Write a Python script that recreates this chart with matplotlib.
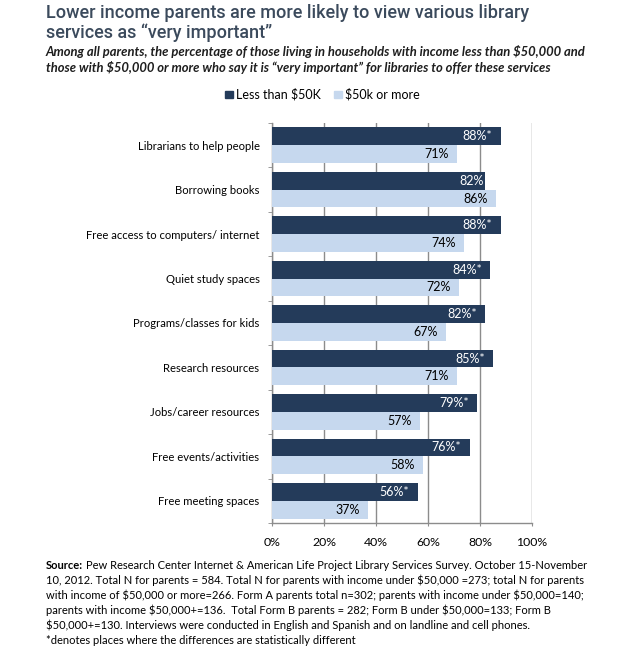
import matplotlib
matplotlib.use("Agg")
import matplotlib.pyplot as plt
import numpy as np
from matplotlib.patches import Rectangle

categories = ["Librarians to help people", "Borrowing books",
              "Free access to computers/ internet", "Quiet study spaces",
              "Programs/classes for kids", "Research resources",
              "Jobs/career resources", "Free events/activities",
              "Free meeting spaces"]
less_50k = [88, 82, 88, 84, 82, 85, 79, 76, 56]
more_50k = [71, 86, 74, 72, 67, 71, 57, 58, 37]
significant = [True, False, True, True, True, True, True, True, True]
xticks = [0, 20, 40, 60, 80, 100]
xticklabels = ["0%", "20%", "40%", "60%", "80%", "100%"]

DARK = "#243b5a"
LIGHT = "#c6d8ee"
GRID = "#8c8c8c"
BODY = "Lato"

W, H = 624, 655
fig = plt.figure(figsize=(W / 100, H / 100), dpi=100)
fig.patch.set_facecolor("white")

def ftext(x, y, s, **kw):
    return fig.text(x / W, 1 - y / H, s, parse_math=False, va="baseline", ha="left", **kw)

ax = fig.add_axes([272 / W, 1 - 523 / H, 260 / W, 400 / H])
n = len(categories)
y = np.arange(n)
bh = 0.4
ax.barh(y - bh / 2, less_50k, height=bh, color=DARK, zorder=3)
ax.barh(y + bh / 2, more_50k, height=bh, color=LIGHT, zorder=3)

for i in range(n):
    lab = f"{less_50k[i]}%" + ("*" if significant[i] else "")
    off = -6 if significant[i] else -1
    ax.annotate(lab, (less_50k[i], y[i] - bh / 2), xytext=(off, 0),
                textcoords="offset points", ha="right", va="center",
                color="white", fontsize=9, family=BODY, zorder=4)
    ax.annotate(f"{more_50k[i]}%", (more_50k[i], y[i] + bh / 2), xytext=(-6, 0),
                textcoords="offset points", ha="right", va="center",
                color="black", fontsize=9, family=BODY, zorder=4)

ax.set_xlim(0, 100)
ax.set_ylim(n - 0.5, -0.5)
ax.set_xticks(xticks)
ax.set_xticklabels(xticklabels, fontsize=8.8, family=BODY)
ax.set_yticks(y)
ax.set_yticklabels(categories, fontsize=8.1, family=BODY)
ax.tick_params(axis="y", length=0, pad=9)
ax.set_yticks(np.arange(n + 1) - 0.5, minor=True)
ax.tick_params(axis="y", which="minor", length=3, color=GRID, direction="out")
ax.tick_params(axis="x", length=2.5, color=GRID, direction="out", pad=7.5)
ax.xaxis.grid(True, color=GRID, linewidth=1, zorder=0)
ax.set_axisbelow(True)
for s in ["top", "right"]:
    ax.spines[s].set_visible(False)
for s in ["left", "bottom"]:
    ax.spines[s].set_color(GRID)
    ax.spines[s].set_linewidth(1)

# Title and subtitle
TCOL = "#3b4a5c"
ftext(46, 18.5, "Lower income parents are more likely to view various library",
      fontsize=13, weight=500, color=TCOL, family="Roboto")
ftext(46, 37.5, "services as \u201cvery important\u201d",
      fontsize=13, weight=500, color=TCOL, family="Roboto")
ftext(46, 56.5, "Among all parents, the percentage of those living in households with income less than $50,000 and",
      fontsize=9.35, style="italic", weight="bold", color="#1e1e1e", family=BODY)
ftext(46, 72.5, "those with $50,000 or more who say it is \u201cvery important\u201d for libraries to offer these services",
      fontsize=9.35, style="italic", weight="bold", color="#1e1e1e", family=BODY)

# Legend
fig.patches.append(Rectangle((225 / W, 1 - 98 / H), 7.5 / W, 7.5 / H, color=DARK, transform=fig.transFigure))
ftext(236, 98, "Less than $50K", fontsize=9, family=BODY)
fig.patches.append(Rectangle((334 / W, 1 - 98 / H), 7.5 / W, 7.5 / H, color=LIGHT, transform=fig.transFigure))
ftext(345, 98, "$50k or more", fontsize=9, family=BODY)

# Footer
footer = [
    "Pew Research Center Internet & American Life Project Library Services Survey. October 15-November",
    "10, 2012. Total N for parents = 584. Total N for parents with income under $50,000 =273; total N for parents",
    "with income of $50,000 or more=266. Form A parents total n=302; parents with income under $50,000=140;",
    "parents with income $50,000+=136.  Total Form B parents = 282; Form B under $50,000=133; Form B",
    "$50,000+=130. Interviews were conducted in English and Spanish and on landline and cell phones.",
    "*denotes places where the differences are statistically different",
]
FS = 8.0
fy = 569
for k, line in enumerate(footer):
    if k == 0:
        t = ftext(46, fy, "Source:", fontsize=FS, weight="bold", family=BODY)
        fig.canvas.draw()
        bb = t.get_window_extent()
        ftext(bb.x1 + 3, fy, line, fontsize=FS, family=BODY)
    else:
        ftext(46, fy, line, fontsize=FS, family=BODY)
    fy += 15

fig.savefig("out.png", dpi=100)
